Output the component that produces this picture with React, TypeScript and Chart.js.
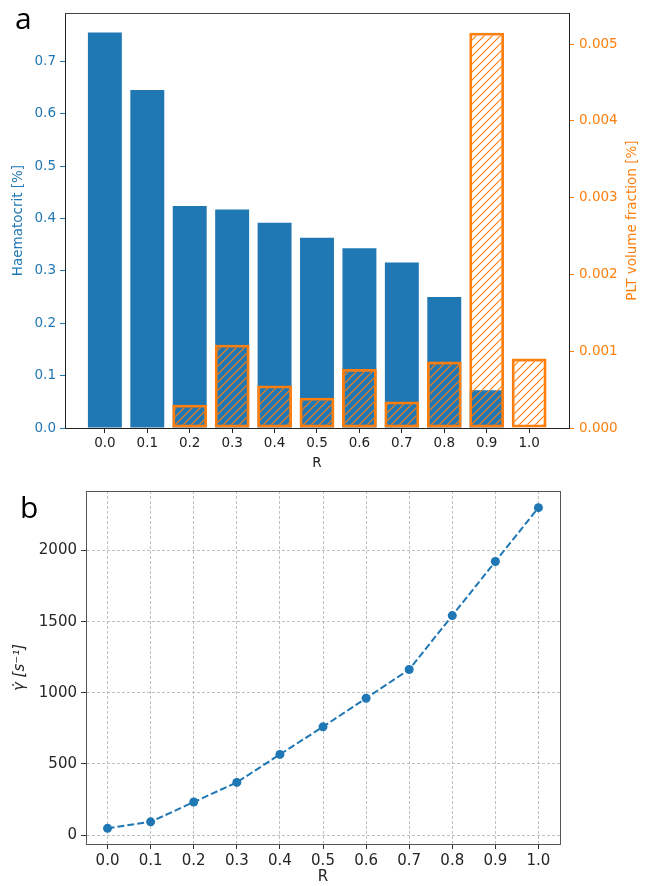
import React, { useEffect, useRef } from 'react';
import { Chart, registerables } from 'chart.js';

Chart.register(...registerables);

// ---------- data ----------
const rValues = [0.0, 0.1, 0.2, 0.3, 0.4, 0.5, 0.6, 0.7, 0.8, 0.9, 1.0];
const haematocrit = [0.755, 0.645, 0.424, 0.417, 0.392, 0.363, 0.343, 0.316, 0.25, 0.072, 0];
const pltFraction = [0.00001, 0.00001, 0.000304, 0.001086, 0.000554, 0.000394, 0.00077, 0.000346, 0.000865, 0.00515, 0.000904];
const hctTicks = [0, 0.1, 0.2, 0.3, 0.4, 0.5, 0.6, 0.7];
const pltTicks = [0, 0.001, 0.002, 0.003, 0.004, 0.005];
const shearRate = [47, 93, 232, 370, 567, 761, 962, 1164, 1543, 1923, 2302];
const shearTicks = [0, 500, 1000, 1500, 2000];

const BLUE = '#1f77b4';
const ORANGE = '#ff7f0e';
const FONT = 'DejaVu Sans';
const PLT_TITLE = 'PLT volume fraction [%]';

function makeHatch(): CanvasPattern | string {
  const c = document.createElement('canvas');
  c.width = 8;
  c.height = 8;
  const ctx = c.getContext('2d');
  if (!ctx) return 'rgba(0,0,0,0)';
  ctx.strokeStyle = ORANGE;
  ctx.lineWidth = 1.2;
  ctx.beginPath();
  ctx.moveTo(-1, 9);
  ctx.lineTo(9, -1);
  ctx.moveTo(-1, 1);
  ctx.lineTo(1, -1);
  ctx.moveTo(7, 9);
  ctx.lineTo(9, 7);
  ctx.stroke();
  const p = ctx.createPattern(c, 'repeat');
  return p || 'rgba(0,0,0,0)';
}

const framePlugin = (id: string, color: string, width: number, sides: string[]) => ({
  id,
  afterDraw(chart: any) {
    const { ctx, chartArea } = chart;
    const { left, right, top, bottom } = chartArea;
    ctx.save();
    ctx.strokeStyle = color;
    ctx.lineWidth = width;
    ctx.beginPath();
    if (sides.includes('top')) {
      ctx.moveTo(left, Math.round(top) + 0.5);
      ctx.lineTo(right, Math.round(top) + 0.5);
    }
    if (sides.includes('right')) {
      ctx.moveTo(Math.round(right) + 0.5, top);
      ctx.lineTo(Math.round(right) + 0.5, bottom);
    }
    ctx.stroke();
    ctx.restore();
  },
});

// right-axis title drawn reading bottom-to-top, like the reference
const rightTitlePlugin = {
  id: 'rightTitle',
  afterDraw(chart: any) {
    const { ctx, chartArea } = chart;
    ctx.save();
    ctx.translate(632, (chartArea.top + chartArea.bottom) / 2);
    ctx.rotate(-Math.PI / 2);
    ctx.textAlign = 'center';
    ctx.textBaseline = 'middle';
    ctx.fillStyle = ORANGE;
    ctx.font = `13.5px "${FONT}"`;
    ctx.fillText(PLT_TITLE, 0, 0);
    ctx.restore();
  },
};

function TopChart() {
  const ref = useRef<HTMLCanvasElement | null>(null);
  useEffect(() => {
    if (!ref.current) return;
    const hatch = makeHatch();
    const tickFont = { family: FONT, size: 13.5 };
    const chart = new Chart(ref.current, {
      type: 'bar',
      data: {
        datasets: [
          {
            label: 'PLT volume fraction',
            data: rValues.map((r, i) => ({ x: r, y: pltFraction[i] })),
            yAxisID: 'y1',
            backgroundColor: hatch as any,
            borderColor: ORANGE,
            borderWidth: 2.8,
            borderSkipped: false,
            grouped: false,
            barPercentage: 0.82,
            categoryPercentage: 1,
            order: 0,
          } as any,
          {
            label: 'Haematocrit',
            data: rValues.map((r, i) => ({ x: r, y: haematocrit[i] })),
            yAxisID: 'y',
            backgroundColor: BLUE,
            borderWidth: 0,
            grouped: false,
            barPercentage: 0.8,
            categoryPercentage: 1,
            order: 1,
          } as any,
        ],
      },
      options: {
        animation: false,
        responsive: false,
        devicePixelRatio: 1,
        layout: { padding: { top: 11, left: 0, right: 0, bottom: 0 } },
        plugins: { legend: { display: false }, tooltip: { enabled: false } },
        scales: {
          x: {
            type: 'linear',
            min: -0.094,
            max: 1.094,
            offset: false,
            afterBuildTicks: (s: any) => {
              s.ticks = rValues.map((v) => ({ value: v }));
            },
            afterFit: (s: any) => {
              s.height = 47;
            },
            ticks: {
              callback: (v: any) => Number(v).toFixed(1),
              color: '#222',
              font: tickFont,
              padding: 2.5,
              maxRotation: 0,
              autoSkip: false,
            },
            grid: { display: true, drawOnChartArea: false, drawTicks: true, tickLength: 5, color: '#222', offset: false },
            border: { display: true, color: '#222', width: 1 },
            title: { display: true, text: 'R', color: '#222', font: tickFont, padding: { top: 0, bottom: 3 } },
          },
          y: {
            type: 'linear',
            position: 'left',
            min: 0,
            max: 0.792,
            afterBuildTicks: (s: any) => {
              s.ticks = hctTicks.map((v) => ({ value: v }));
            },
            afterFit: (s: any) => {
              s.width = 65;
            },
            ticks: { callback: (v: any) => Number(v).toFixed(1), color: BLUE, font: tickFont, padding: 4 },
            grid: { display: true, drawOnChartArea: false, drawTicks: true, tickLength: 5, color: BLUE },
            border: { display: true, color: '#222', width: 1 },
            title: { display: true, text: 'Haematocrit [%]', color: BLUE, font: tickFont, padding: { top: 10.4, bottom: 0 } },
          },
          y1: {
            type: 'linear',
            position: 'right',
            min: 0,
            max: 0.005405,
            afterBuildTicks: (s: any) => {
              s.ticks = pltTicks.map((v) => ({ value: v }));
            },
            afterFit: (s: any) => {
              s.width = 80;
            },
            ticks: { callback: (v: any) => Number(v).toFixed(3), color: ORANGE, font: tickFont, padding: 5 },
            grid: { display: true, drawOnChartArea: false, drawTicks: true, tickLength: 5, color: ORANGE },
            border: { display: true, color: '#222', width: 1 },
            title: { display: false },
          },
        },
      } as any,
      plugins: [framePlugin('frameTop', '#444', 1, ['top']), rightTitlePlugin],
    });
    return () => chart.destroy();
  }, []);
  return (
    <canvas
      ref={ref}
      width={649}
      height={475}
      style={{ position: 'absolute', left: 0, top: 0, width: 649, height: 475, display: 'block' }}
    />
  );
}

function BottomChart() {
  const ref = useRef<HTMLCanvasElement | null>(null);
  useEffect(() => {
    if (!ref.current) return;
    const tickFont = { family: FONT, size: 15 };
    const gridOpts = {
      display: true,
      drawOnChartArea: true,
      drawTicks: true,
      tickLength: 5,
      color: '#b0b0b0',
      lineWidth: 0.8,
      tickColor: '#333',
      tickWidth: 1,
      tickBorderDash: [],
      offset: false,
    };
    const chart = new Chart(ref.current, {
      type: 'line',
      data: {
        datasets: [
          {
            label: 'shear rate',
            data: rValues.map((r, i) => ({ x: r, y: shearRate[i] })),
            borderColor: BLUE,
            backgroundColor: BLUE,
            borderWidth: 2,
            borderDash: [7, 3],
            pointRadius: 4.5,
            pointBackgroundColor: BLUE,
            pointBorderWidth: 0,
            tension: 0,
            fill: false,
          },
        ],
      },
      options: {
        animation: false,
        responsive: false,
        devicePixelRatio: 1,
        layout: { padding: { top: 16, left: 0, right: 89, bottom: 0 } },
        plugins: { legend: { display: false }, tooltip: { enabled: false } },
        scales: {
          x: {
            type: 'linear',
            min: -0.05,
            max: 1.05,
            offset: false,
            afterBuildTicks: (s: any) => {
              s.ticks = rValues.map((v) => ({ value: v }));
            },
            afterFit: (s: any) => {
              s.height = 42;
            },
            ticks: {
              callback: (v: any) => Number(v).toFixed(1),
              color: '#262626',
              font: tickFont,
              padding: 3,
              maxRotation: 0,
              autoSkip: false,
            },
            grid: gridOpts,
            border: { display: true, color: '#555', width: 1, dash: [3, 2] },
            title: { display: true, text: 'R', color: '#262626', font: tickFont, padding: { top: 0, bottom: 0 } },
          },
          y: {
            type: 'linear',
            position: 'left',
            min: -63,
            max: 2419,
            afterBuildTicks: (s: any) => {
              s.ticks = shearTicks.map((v) => ({ value: v }));
            },
            afterFit: (s: any) => {
              s.width = 86;
            },
            ticks: { callback: (v: any) => String(v), color: '#262626', font: tickFont, padding: 4 },
            grid: gridOpts,
            border: { display: true, color: '#555', width: 1, dash: [3, 2] },
            title: {
              display: true,
              text: 'γ̇ [s⁻¹]',
              color: '#262626',
              font: { family: FONT, size: 15, style: 'italic' },
              padding: { top: 11, bottom: 0 },
            },
          },
        },
      } as any,
      plugins: [framePlugin('frameBottom', '#555', 1, ['top', 'right'])],
    });
    return () => chart.destroy();
  }, []);
  return (
    <canvas
      ref={ref}
      width={649}
      height={411}
      style={{ position: 'absolute', left: 0, top: 475, width: 649, height: 411, display: 'block' }}
    />
  );
}

export default function App() {
  const letterStyle: React.CSSProperties = {
    position: 'absolute',
    fontFamily: '"Open Sans", sans-serif',
    fontSize: 30,
    lineHeight: '30px',
    color: '#000',
    margin: 0,
  };
  return (
    <div style={{ position: 'absolute', left: 0, top: 0, width: 649, height: 886, overflow: 'hidden', background: '#fff' }}>
      <TopChart />
      <BottomChart />
      <div style={{ ...letterStyle, left: 15, top: 3 }}>a</div>
      <div style={{ ...letterStyle, left: 20, top: 492 }}>b</div>
    </div>
  );
}
